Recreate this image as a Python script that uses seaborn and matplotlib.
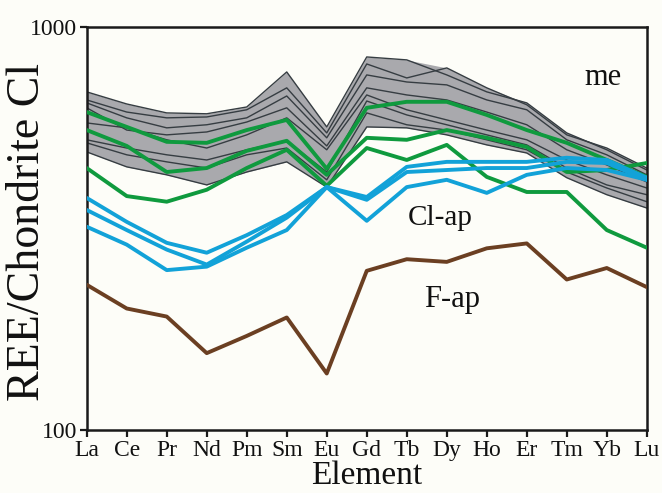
import numpy as np
import pandas as pd
import matplotlib
matplotlib.use("Agg")
import matplotlib.pyplot as plt
from matplotlib.ticker import NullLocator, FixedLocator, FixedFormatter
import seaborn as sns

# Chondrite-normalised REE patterns
elements = ["La", "Ce", "Pr", "Nd", "Pm", "Sm", "Eu", "Gd",
            "Tb", "Dy", "Ho", "Er", "Tm", "Yb", "Lu"]

# host (me) patterns
me_1 = [689, 643, 611, 608, 632, 772, 564, 841, 827, 759, 689, 647, 545, 495, 441]
me_2 = [658, 614, 594, 597, 622, 705, 545, 808, 746, 790, 705, 640, 539, 500, 446]
me_3 = [647, 594, 561, 571, 594, 673, 530, 759, 729, 717, 658, 622, 524, 481, 429]
me_4 = [629, 554, 539, 548, 580, 629, 506, 705, 677, 658, 614, 571, 495, 454, 412]
me_5 = [577, 561, 524, 500, 539, 594, 495, 677, 622, 587, 554, 524, 467, 429, 398]
me_6 = [524, 500, 481, 467, 495, 521, 436, 654, 604, 571, 539, 509, 446, 405, 383]
me_7 = [515, 481, 462, 446, 481, 500, 417, 611, 571, 554, 524, 495, 436, 398, 368]
me_8 = [489, 449, 429, 405, 436, 462, 400, 564, 561, 539, 509, 486, 422, 383, 355]

# green apatite patterns
green_1 = [614, 564, 518, 515, 554, 587, 444, 629, 651, 651, 604, 554, 515, 467, 424]
green_2 = [554, 506, 436, 446, 492, 521, 429, 530, 524, 554, 530, 503, 436, 441, 459]
green_3 = [446, 380, 368, 394, 446, 495, 403, 500, 467, 509, 424, 389, 389, 313, 283]

# Cl-apatite patterns
clap_1 = [376, 328, 291, 275, 304, 341, 400, 378, 449, 462, 462, 462, 473, 467, 422]
clap_2 = [351, 313, 280, 257, 293, 336, 400, 372, 436, 441, 446, 446, 462, 459, 417]
clap_3 = [319, 288, 249, 254, 283, 313, 400, 330, 400, 417, 387, 429, 446, 441, 417]

# F-apatite pattern
fap_1 = [229, 200, 191, 155, 171, 190, 138, 248, 265, 261, 282, 290, 236, 252, 226]

groups = {
    "me": [me_1, me_2, me_3, me_4, me_5, me_6, me_7, me_8],
    "green": [green_1, green_2, green_3],
    "Cl-ap": [clap_1, clap_2, clap_3],
    "F-ap": [fap_1],
}

rows = []
for g, samples in groups.items():
    for i, s in enumerate(samples):
        for pos, (el, v) in enumerate(zip(elements, s)):
            rows.append({"group": g, "sample": f"{g}_{i}", "pos": pos,
                         "element": el, "value": v})
df = pd.DataFrame(rows)

sns.set_style("ticks")
plt.rcParams["font.family"] = ["Liberation Serif", "DejaVu Serif"]

bg = "#fdfdf8"
fig = plt.figure(figsize=(6.62, 4.93), dpi=100, facecolor=bg)
ax = fig.add_axes([0.131, 0.128, 0.846, 0.818], facecolor=bg)
ax.set_yscale("log")

# envelope of the host patterns
me_df = df[df["group"] == "me"].pivot(index="pos", columns="sample", values="value")
ax.fill_between(me_df.index, me_df.min(axis=1), me_df.max(axis=1),
                color="#a9a9ad", lw=0, zorder=1)

styles = {
    "me": dict(color="#363d42", lw=1.0, z=2),
    "green": dict(color="#0f9a3e", lw=2.8, z=3),
    "Cl-ap": dict(color="#12a2d8", lw=2.8, z=4),
    "F-ap": dict(color="#6b3f22", lw=2.8, z=5),
}
for g, st in styles.items():
    sub = df[df["group"] == g]
    sns.lineplot(data=sub, x="pos", y="value", units="sample", estimator=None,
                 color=st["color"], lw=st["lw"], ax=ax, legend=False,
                 zorder=st["z"], sort=False)

ax.set_xlim(0, 14)
ax.set_ylim(100, 1000)
ax.xaxis.set_major_locator(FixedLocator(range(len(elements))))
ax.xaxis.set_major_formatter(FixedFormatter(elements))
ax.yaxis.set_major_locator(FixedLocator([100, 1000]))
ax.yaxis.set_major_formatter(FixedFormatter(["100", "1000"]))
ax.yaxis.set_minor_locator(NullLocator())
ax.xaxis.set_minor_locator(NullLocator())

ax.tick_params(axis="both", direction="out", length=5, width=1.6,
               color="#1a1a1a", labelsize=17, pad=2, labelcolor="#111111")
for sp in ax.spines.values():
    sp.set_linewidth(1.8)
    sp.set_color("#1a1a1a")

ax.set_xlabel("Element", fontsize=24, color="#111111")
ax.set_ylabel("REE/Chondrite Cl", fontsize=33, color="#111111")
ax.xaxis.set_label_coords(0.5, -0.075)
ax.yaxis.set_label_coords(-0.068, 0.49)

ax.text(12.9, 746, "me", fontsize=22, ha="center", va="center", color="#111111")
ax.text(8.83, 336, "Cl-ap", fontsize=21, ha="center", va="center", color="#111111")
ax.text(9.13, 210, "F-ap", fontsize=22, ha="center", va="center", color="#111111")

fig.savefig("out.png", dpi=100, facecolor=bg)
